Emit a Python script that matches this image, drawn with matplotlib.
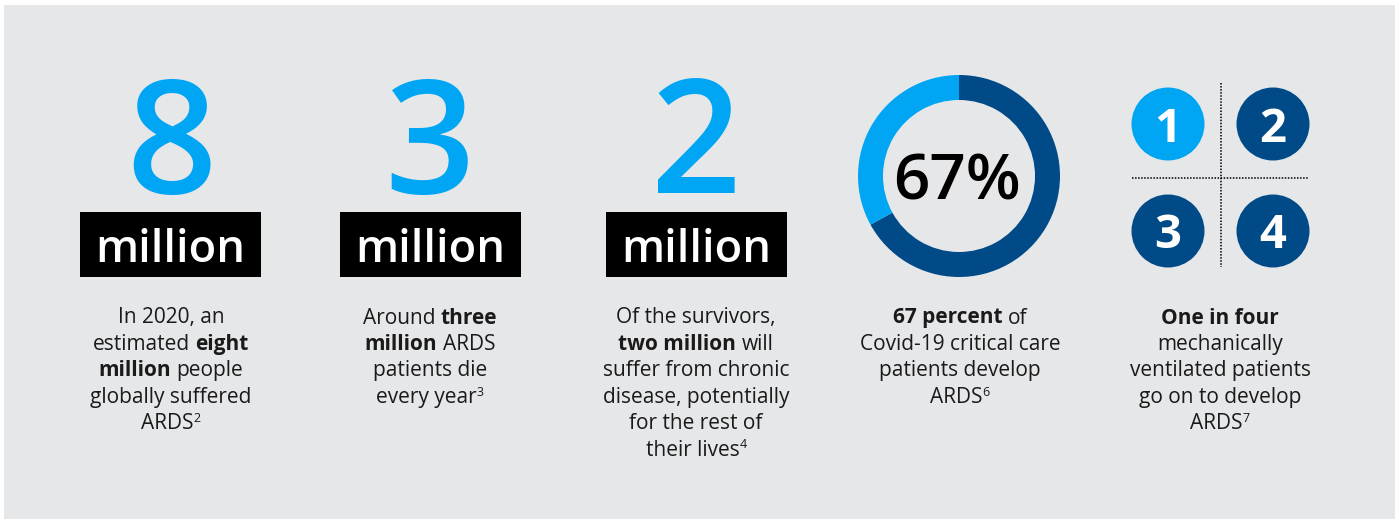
import matplotlib
matplotlib.use('Agg')
import matplotlib.pyplot as plt
from matplotlib.patches import Rectangle, Circle

# ---------------- data ----------------
big_numbers = ['8', '3', '2']
big_unit = 'million'
donut_values = [67, 33]          # % of Covid-19 critical care patients developing ARDS, remainder
donut_label = '67%'
quad_numbers = ['1', '2', '3', '4']
quad_highlight = [True, False, False, False]

# description lines: (text, style) with style n=normal, b=bold, s=superscript
desc_1 = [[('In 2020, an', 'n')],
          [('estimated ', 'n'), ('eight', 'b')],
          [('million', 'b'), (' people', 'n')],
          [('globally suffered', 'n')],
          [('ARDS', 'n'), ('2', 's')]]
desc_2 = [[('Around ', 'n'), ('three', 'b')],
          [('million', 'b'), (' ARDS', 'n')],
          [('patients die', 'n')],
          [('every year', 'n'), ('3', 's')]]
desc_3 = [[('Of the survivors,', 'n')],
          [('two million', 'b'), (' will', 'n')],
          [('suffer from chronic', 'n')],
          [('disease, potentially', 'n')],
          [('for the rest of', 'n')],
          [('their lives', 'n'), ('4', 's')]]
desc_4 = [[('67 percent', 'b'), (' of', 'n')],
          [('Covid-19 critical care', 'n')],
          [('patients develop', 'n')],
          [('ARDS', 'n'), ('6', 's')]]
desc_5 = [[('One in four', 'b')],
          [('mechanically', 'n')],
          [('ventilated patients', 'n')],
          [('go on to develop', 'n')],
          [('ARDS', 'n'), ('7', 's')]]
descriptions = [desc_1, desc_2, desc_3, desc_4, desc_5]

# ---------------- style ----------------
W, H = 1399, 520
BG = '#E6E7E9'
LIGHT = '#00A5F4'
DARK = '#004B87'
INK = '#1A1A1A'
FONT = ['Open Sans', 'DejaVu Sans']
plt.rcParams['font.family'] = FONT

fig = plt.figure(figsize=(W / 100, H / 100), dpi=100)
fig.patch.set_facecolor('white')
ax = fig.add_axes([0, 0, 1, 1])
ax.set_xlim(0, W)
ax.set_ylim(H, 0)
ax.axis('off')

ax.add_patch(Rectangle((4, 5), 1391, 514, facecolor=BG, edgecolor='none', zorder=0))

col_x = [171, 430, 696, 960, 1220]

# big numbers + "million" boxes
box_left = [80, 340, 606]
for i, num in enumerate(big_numbers):
    ax.text(col_x[i], 193, num, ha='center', va='baseline', fontsize=114,
            color=LIGHT, fontweight='semibold')
    ax.add_patch(Rectangle((box_left[i], 212), 181, 65, facecolor='black',
                           edgecolor='none', zorder=1))
    ax.text(box_left[i] + 90.5, 262, big_unit, ha='center', va='baseline',
            fontsize=32.5, color='white', fontweight='semibold', zorder=2)

# donut
ax2 = fig.add_axes([(959 - 110) / W, (H - 176 - 110) / H, 220 / W, 220 / H])
ax2.pie(donut_values, colors=[DARK, LIGHT], startangle=90, counterclock=False,
        radius=1.01, wedgeprops=dict(width=0.25, linewidth=0))
ax2.set_xlim(-1.1, 1.1)
ax2.set_ylim(-1.1, 1.1)
ax2.axis('off')
ax2.patch.set_visible(False)
ax.text(957, 199, donut_label, ha='center', va='baseline', fontsize=46,
        color='black', fontweight='semibold')

# quadrant circles
qx = [1168, 1273, 1168, 1273]
qy = [124, 124, 231, 231]
for n, hl, x, y in zip(quad_numbers, quad_highlight, qx, qy):
    ax.add_patch(Circle((x, y), 36.5, facecolor=LIGHT if hl else DARK,
                        edgecolor='none', zorder=2))
    ax.text(x, y + 17.5, n, ha='center', va='baseline', fontsize=34,
            color='white', fontweight='bold', zorder=3)
dot = dict(color='black', lw=1.1, linestyle=(0, (1, 1)), dash_capstyle='butt', zorder=2)
ax.plot([1221, 1221], [83, 267], **dot)
ax.plot([1132, 1309], [178, 178], **dot)

# descriptions with mixed weights
renderer = fig.canvas.get_renderer()
BODY = 15.0
SUP = 9.0


def seg_kw(style):
    if style == 'b':
        return dict(fontsize=BODY, fontweight='bold')
    if style == 's':
        return dict(fontsize=SUP, fontweight='normal')
    return dict(fontsize=BODY, fontweight='normal')


def width(s, kw):
    if not s:
        return 0.0
    t = ax.text(0, 0, s, **kw)
    w = t.get_window_extent(renderer).width
    t.remove()
    return w


space_w = {}
for st in 'nbs':
    kw = seg_kw(st)
    space_w[st] = width('n n', kw) - width('nn', kw)

y0, dy = 323.5, 26.4
for c, lines in enumerate(descriptions):
    for li, segs in enumerate(lines):
        y = y0 + li * dy
        parts = []
        total = 0.0
        for s, st in segs:
            kw = seg_kw(st)
            lead = len(s) - len(s.lstrip(' '))
            trail = len(s) - len(s.rstrip(' '))
            core = s.strip(' ')
            w = width(core, kw)
            parts.append((core, st, kw, total + lead * space_w[st]))
            total += lead * space_w[st] + w + trail * space_w[st]
        x_start = col_x[c] - total / 2
        for core, st, kw, off in parts:
            yy = y - 7 if st == 's' else y
            ax.text(x_start + off, yy, core, ha='left', va='baseline',
                    color=INK, **kw)

fig.savefig('out.png', dpi=100, facecolor='white')
